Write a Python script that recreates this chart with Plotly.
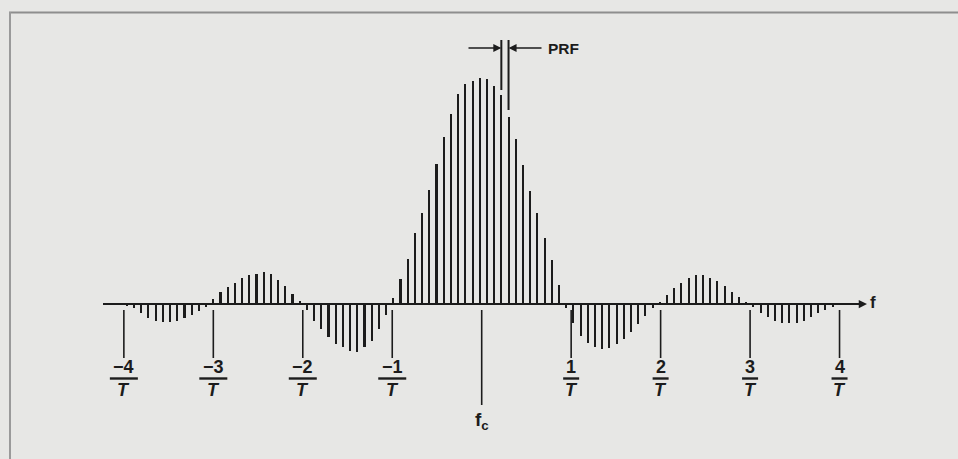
import plotly.graph_objects as go

# ---------------- data ----------------
# spectral lines spaced by the PRF, in units of 1/T, centred on fc
PRF = 0.0805
CENTER_OFFSET = -0.022
N_START = -49

# line amplitudes, % of the central line, from left (n=-49) to right (n=49)
far_left_lobe = [-0.8, -1.9, -4.1, -6.1, -7.4, -8.1, -8.1, -7.5, -6.3, -4.9, -3.1, -1.2]
left_pos_lobe = [2.1, 5.3, 7.4, 9.4, 11.7, 12.9, 13.5, 14.0, 13.3, 10.6, 8.0, 4.4, 1.3]
left_neg_lobe = [-2.7, -7.4, -11.1, -14.6, -17.7, -19.1, -20.7, -21.1, -18.9, -16.3, -11.1, -4.9]
main_lobe = [2.5, 11.1, 19.8, 31.3, 40.5, 50.5, 62.0, 74.1, 84.1, 93.0, 97.3, 98.9,
             100.0, 99.6, 96.6, 92.6, 83.0, 73.1, 61.6, 50.1, 40.2, 29.1, 19.5, 8.4]
right_neg_lobe = [-1.9, -8.6, -14.2, -17.4, -19.2, -19.9, -19.5, -17.7, -15.5, -12.4, -8.9, -5.1, -1.6]
right_pos_lobe = [1.0, 4.2, 7.1, 9.3, 11.5, 12.7, 12.9, 11.5, 10.0, 7.8, 5.5, 3.3, 1.1]
far_right_lobe = [-1.5, -4.1, -5.6, -7.4, -8.3, -8.6, -8.6, -7.4, -5.6, -4.1, -2.7, -1.5]

amplitudes = (far_left_lobe + left_pos_lobe + left_neg_lobe + main_lobe
              + right_neg_lobe + right_pos_lobe + far_right_lobe)

tick_values = [-4, -3, -2, -1, 1, 2, 3, 4]
tick_numerators = ["−4", "−3", "−2", "−1", "1", "2", "3", "4"]
tick_denominator = "T"
fc_label = "f<sub>c</sub>"
axis_label = "f"
prf_label = "PRF"
prf_lines = [3, 4]  # indices (n) of the two lines marked by the PRF arrows

# ---------------- layout helpers ----------------
W, H = 958, 459
X_ZERO_PX = 481.7
PX_PER_UNIT = 89.46
BASE_PX = 304.0
PX_PER_Y = 2.257
INK = "#1c1c1c"
BG = "#e7e7e5"
FONT = "Liberation Sans, Arial, Helvetica, sans-serif"


def px2x(px):
    return (px - X_ZERO_PX) / PX_PER_UNIT


def py2y(py):
    return (BASE_PX - py) / PX_PER_Y


def line_x(n):
    return CENTER_OFFSET + n * PRF


xs = [line_x(N_START + i) for i in range(len(amplitudes))]

fig = go.Figure()
fig.add_trace(go.Bar(
    x=xs, y=amplitudes, width=0.023,
    marker=dict(color=INK, line=dict(width=0)),
    hoverinfo="skip", showlegend=False,
))

shapes = []
annotations = []

# horizontal frequency axis
shapes.append(dict(type="line", xref="x", yref="y", x0=px2x(103), x1=px2x(862),
                   y0=0, y1=0, line=dict(color=INK, width=2)))
annotations.append(dict(x=px2x(867), y=0, ax=px2x(855), ay=0, axref="x", ayref="y",
                        xref="x", yref="y", text="", showarrow=True, arrowhead=2,
                        arrowsize=1.1, arrowwidth=1.5, arrowcolor=INK, standoff=0))
annotations.append(dict(x=px2x(868), y=py2y(302), xref="x", yref="y", text="<b>%s</b>" % axis_label,
                        showarrow=False, xanchor="left", yanchor="middle",
                        font=dict(size=17, color=INK, family=FONT)))

# ticks with fraction labels
for v, num in zip(tick_values, tick_numerators):
    shapes.append(dict(type="line", xref="x", yref="y", x0=v, x1=v,
                       y0=py2y(310), y1=py2y(358), line=dict(color=INK, width=1.6)))
    annotations.append(dict(x=v, y=py2y(367), xref="x", yref="y", text="<b>%s</b>" % num,
                            showarrow=False, xanchor="center", yanchor="middle",
                            font=dict(size=18, color=INK, family=FONT)))
    half = (14 if v < 0 else 8) / PX_PER_UNIT
    shapes.append(dict(type="line", xref="x", yref="y", x0=v - half, x1=v + half,
                       y0=py2y(378.5), y1=py2y(378.5), line=dict(color=INK, width=2.4)))
    annotations.append(dict(x=v, y=py2y(389.5), xref="x", yref="y",
                            text="<b><i>%s</i></b>" % tick_denominator,
                            showarrow=False, xanchor="center", yanchor="middle",
                            font=dict(size=18, color=INK, family=FONT)))

# fc marker
shapes.append(dict(type="line", xref="x", yref="y", x0=0, x1=0,
                   y0=py2y(310), y1=py2y(405), line=dict(color=INK, width=1.6)))
annotations.append(dict(x=0, y=py2y(421), xref="x", yref="y", text="<b>%s</b>" % fc_label,
                        showarrow=False, xanchor="center", yanchor="middle",
                        font=dict(size=19, color=INK, family=FONT)))

# PRF dimension marker
xa, xb = line_x(prf_lines[0]), line_x(prf_lines[1])
shapes.append(dict(type="line", xref="x", yref="y", x0=xa, x1=xa,
                   y0=py2y(40), y1=py2y(90), line=dict(color=INK, width=2)))
shapes.append(dict(type="line", xref="x", yref="y", x0=xb, x1=xb,
                   y0=py2y(40), y1=py2y(110), line=dict(color=INK, width=2)))
yarr = py2y(48)
annotations.append(dict(x=xa, y=yarr, ax=px2x(467), ay=yarr, axref="x", ayref="y",
                        xref="x", yref="y", text="", showarrow=True, arrowhead=2,
                        arrowsize=1, arrowwidth=1.6, arrowcolor=INK, standoff=0))
annotations.append(dict(x=xb, y=yarr, ax=px2x(543), ay=yarr, axref="x", ayref="y",
                        xref="x", yref="y", text="", showarrow=True, arrowhead=2,
                        arrowsize=1, arrowwidth=1.6, arrowcolor=INK, standoff=0))
annotations.append(dict(x=px2x(546), y=yarr, xref="x", yref="y", text="<b>%s</b>" % prf_label,
                        showarrow=False, xanchor="left", yanchor="middle",
                        font=dict(size=15.5, color=INK, family=FONT)))

# page frame (top and left rules of the scanned box)
shapes.append(dict(type="line", xref="paper", yref="paper", x0=9 / W, x1=1,
                   y0=1 - 12.5 / H, y1=1 - 12.5 / H, line=dict(color="#8e8e8e", width=2)))
shapes.append(dict(type="line", xref="paper", yref="paper", x0=10 / W, x1=10 / W,
                   y0=1 - 12 / H, y1=0, line=dict(color="#9a9a9a", width=2)))

fig.update_layout(
    width=W, height=H, autosize=False,
    margin=dict(l=0, r=0, t=0, b=0),
    paper_bgcolor=BG, plot_bgcolor=BG,
    xaxis=dict(range=[px2x(0), px2x(W)], visible=False, fixedrange=True),
    yaxis=dict(range=[py2y(H), py2y(0)], visible=False, fixedrange=True),
    shapes=shapes, annotations=annotations,
    bargap=0, showlegend=False,
    font=dict(family=FONT, color=INK),
)

fig.write_html(
    "out.html",
    config={"displayModeBar": False, "staticPlot": True},
    post_script="document.body.style.margin='0';document.body.style.padding='0';"
                "document.body.style.overflow='hidden';"
                "document.body.style.background='%s';" % BG,
)
